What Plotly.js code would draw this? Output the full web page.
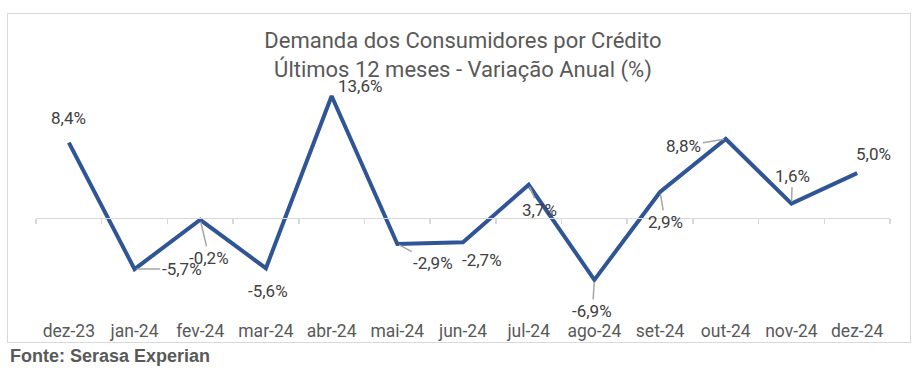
<!DOCTYPE html>
<html><head><meta charset="utf-8">
<script src="https://cdn.plot.ly/plotly-3.0.1.min.js"></script>
<style>html,body{margin:0;padding:0;background:#fff;}#wrap{position:relative;width:921px;height:372px;}#chart{width:921px;height:372px;}#frame{position:absolute;left:7px;top:13px;width:902px;height:328px;border:1.5px solid #d9d9d9;pointer-events:none;}</style>
</head><body><div id="wrap"><div id="chart"></div><div id="frame"></div></div>
<script>
const months = ["dez-23","jan-24","fev-24","mar-24","abr-24","mai-24","jun-24","jul-24","ago-24","set-24","out-24","nov-24","dez-24"];
const values = [8.4,-5.7,-0.2,-5.6,13.6,-2.9,-2.7,3.7,-6.9,2.9,8.8,1.6,5.0];
const titleText = "Demanda dos Consumidores por Crédito<br>Últimos 12 meses - Variação Anual (%)";
const sourceText = "Fonte: Serasa Experian";

// label offsets (px) and whether a leader line is drawn
const labelDx = [0, 47, 9, 2, 28, 36, 19, 11, -2, 5, -42, 1, 16];
const labelDy = [-25, 0, 38, 23, -10, 19, 18, 25, 31, 30, 7, -28, -19];
const leader  = [false,true,true,false,false,true,false,true,true,true,true,true,false];

const yMin = -11.15, yMax = 17.61;
const zeroPos = (0 - yMin) / (yMax - yMin);
const fmt = v => v.toFixed(1).replace('.', ',') + '%';

const annotations = values.map((v, i) => {
  const a = {x: months[i], y: v, xref: 'x', yref: 'y', text: fmt(v),
    font: {family: 'Roboto', size: 17, color: '#404040'}};
  if (leader[i]) {
    Object.assign(a, {showarrow: true, ax: labelDx[i], ay: labelDy[i], axref: 'pixel', ayref: 'pixel',
      arrowhead: 0, arrowwidth: 1.5, arrowcolor: '#a6a6a6', standoff: 2});
  } else {
    Object.assign(a, {showarrow: false, xshift: labelDx[i], yshift: -labelDy[i]});
  }
  return a;
});
annotations.push({text: '<b>' + sourceText + '</b>', xref: 'paper', yref: 'paper', x: (8 - 36) / 854, y: -38 / 258,
  xanchor: 'left', yanchor: 'middle', showarrow: false, font: {family: 'Liberation Sans', size: 18, color: '#595959'}});

const data = [
  {x: months, y: values, type: 'scatter', mode: 'lines', line: {color: '#2F5597', width: 4}, hoverinfo: 'skip'},
  {x: months, y: values, xaxis: 'x2', type: 'scatter', mode: 'lines', line: {width: 0}, opacity: 0, hoverinfo: 'skip'}
];
const layout = {
  width: 921, height: 372, showlegend: false,
  margin: {l: 36, r: 31, t: 60, b: 54},
  paper_bgcolor: '#fff', plot_bgcolor: 'rgba(0,0,0,0)',
  title: {text: titleText, x: 0.5, xref: 'paper', y: 0.87, yanchor: 'middle', font: {family: 'Roboto', size: 22, color: '#595959'}},
  xaxis: {type: 'category', categoryarray: months, range: [-0.5, 12.5], showline: false, showgrid: false, zeroline: false,
    ticks: '', tickfont: {family: 'Roboto', size: 17.5, color: '#595959'}},
  xaxis2: {type: 'category', categoryarray: months, overlaying: 'x', anchor: 'free', position: zeroPos, side: 'bottom',
    range: [-0.5, 12.5], showline: true, linecolor: '#d9d9d9', linewidth: 1.5, ticks: 'outside', tickson: 'boundaries',
    ticklen: 5, tickwidth: 1.5, tickcolor: '#d9d9d9', showticklabels: false, showgrid: false, zeroline: false},
  yaxis: {range: [yMin, yMax], visible: false, showgrid: false, zeroline: false},
  annotations: annotations
};
Plotly.newPlot('chart', data, layout, {displayModeBar: false, staticPlot: true});
</script></body></html>
